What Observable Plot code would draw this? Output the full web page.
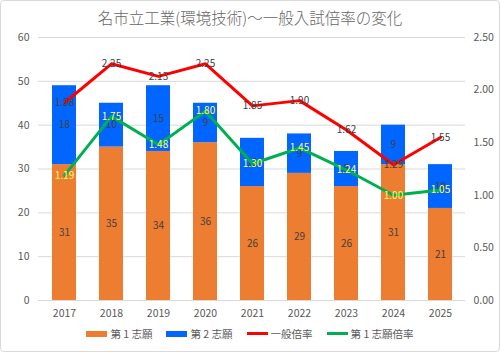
<!DOCTYPE html>
<html><head><meta charset="utf-8">
<script src="https://cdn.jsdelivr.net/npm/d3@7"></script>
<script src="https://cdn.jsdelivr.net/npm/@observablehq/plot@0.6"></script>
<style>
html,body{margin:0;padding:0;background:#fff;}
#wrap{position:relative;width:500px;height:352px;overflow:hidden;font-family:"Noto Sans CJK JP","Noto Sans",sans-serif;}
#frame{position:absolute;left:0;top:0;width:498px;height:350px;border:1px solid #d9d9d9;border-radius:4px;box-sizing:content-box;pointer-events:none;}
#title{position:absolute;left:0;top:6px;width:500px;text-align:center;font-size:15.5px;color:#666;font-weight:300;}
#legend{position:absolute;left:0;top:326px;width:500px;display:flex;justify-content:center;gap:14px;font-size:10.5px;color:#595959;}
.it{display:flex;align-items:center;gap:3px;}
.sw{display:inline-block;width:21px;}
#chart{position:absolute;left:0;top:0;}
</style></head>
<body><div id="wrap"><div id="chart"></div><div id="title">名市立工業(環境技術)～一般入試倍率の変化</div><div id="legend"></div><div id="frame"></div></div>
<script>
const years = ["2017","2018","2019","2020","2021","2022","2023","2024","2025"];
const first = [31,35,34,36,26,29,26,31,21];
const second = [18,10,15,9,11,9,8,9,10];
const generalRate = [1.88,2.25,2.13,2.25,1.85,1.90,1.62,1.29,1.55];
const firstRate = [1.19,1.75,1.48,1.80,1.30,1.45,1.24,1.00,1.05];
const leftTicks = [0,10,20,30,40,50,60];
const rightTicks = [0,0.5,1.0,1.5,2.0,2.5];
const seriesNames = ["第 1 志願","第 2 志願","一般倍率","第 1 志願倍率"];
const colors = ["#ED7D31","#0066FF","#FF0000","#00B050"];

const k = 60/2.5;
const bars = [];
years.forEach((y,i)=>bars.push({year:y,series:seriesNames[0],value:first[i]}));
years.forEach((y,i)=>bars.push({year:y,series:seriesNames[1],value:second[i]}));
const gen = years.map((y,i)=>({year:y,v:generalRate[i]*k,r:generalRate[i]}));
const fr = years.map((y,i)=>({year:y,v:firstRate[i]*k,r:firstRate[i]}));

const chart = Plot.plot({
  width:500,height:352,
  marginTop:37,marginBottom:52,marginLeft:38,marginRight:35,
  style:{fontFamily:"'Noto Sans CJK JP','Noto Sans',sans-serif",fontSize:"10px",color:"#595959",background:"transparent"},
  x:{domain:years,paddingInner:0.5,paddingOuter:0.25,label:null},
  y:{domain:[0,60],label:null},
  color:{domain:seriesNames,range:colors},
  marks:[
    Plot.gridY(leftTicks,{stroke:"#d9d9d9",strokeOpacity:1}),
    Plot.axisY(leftTicks,{anchor:"left",tickSize:0,tickPadding:9,label:null,fill:"#595959",fontSize:10.5}),
    Plot.axisY(rightTicks.map(t=>t*k),{anchor:"right",tickSize:0,tickPadding:8,label:null,fill:"#595959",fontSize:10.5,tickFormat:d=>(d/k).toFixed(2)}),
    Plot.axisX({tickSize:0,tickPadding:9,label:null,fill:"#595959",fontSize:10.5}),
    Plot.barY(bars,{x:"year",y:"value",fill:"series"}),
    Plot.text(bars,Plot.stackY({x:"year",y:"value",z:"series",text:"value",fill:"#404040",fontSize:10})),
    Plot.lineY(gen,{x:"year",y:"v",stroke:colors[2],strokeWidth:3}),
    Plot.lineY(fr,{x:"year",y:"v",stroke:colors[3],strokeWidth:3}),
    Plot.text(gen,{x:"year",y:"v",text:d=>d.r.toFixed(2),fill:"#404040",fontSize:10}),
    Plot.text(fr,{x:"year",y:"v",text:d=>d.r.toFixed(2),fill:"#FFFF66",fontSize:10})
  ]
});
document.getElementById("chart").appendChild(chart);

const leg = document.getElementById("legend");
seriesNames.forEach((n,i)=>{
  const it=document.createElement("div");it.className="it";
  const sw=document.createElement("span");sw.className="sw";
  sw.style.height=i<2?"6px":"3px";sw.style.background=colors[i];
  const t=document.createElement("span");t.textContent=n;
  it.appendChild(sw);it.appendChild(t);leg.appendChild(it);
});
</script></body></html>
